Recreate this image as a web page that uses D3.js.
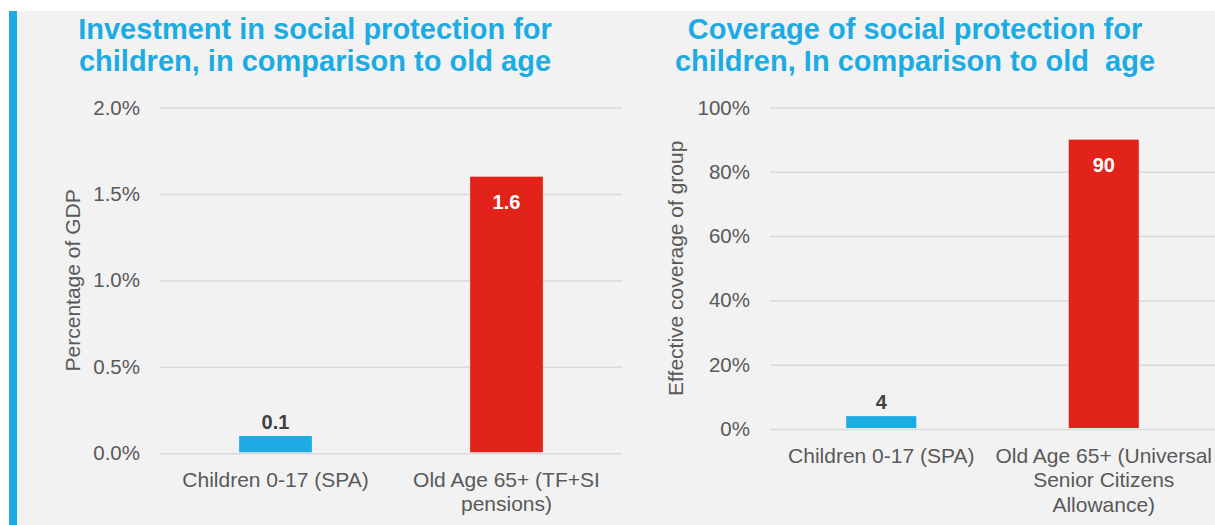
<!DOCTYPE html>
<html>
<head>
<meta charset="utf-8">
<script src="https://cdn.jsdelivr.net/npm/d3@7"></script>
<style>
  html, body { margin: 0; padding: 0; background: #ffffff; }
  svg { display: block; }
  text { font-family: Arial, "Liberation Sans", Helvetica, sans-serif; }
</style>
</head>
<body>
<svg id="chart" width="1215" height="525"></svg>
<script>
// ---- Data ----
const investTitle = ["Investment in social protection for", "children, in comparison to old age"];
const investAxisTitle = "Percentage of GDP";
const investCategories = [["Children 0-17 (SPA)"], ["Old Age 65+ (TF+SI", "pensions)"]];
const investValues = [0.1, 1.6];
const investTicks = [0, 0.5, 1.0, 1.5, 2.0];

const coverageTitle = ["Coverage of social protection for", "children, In comparison to old  age"];
const coverageAxisTitle = "Effective coverage of group";
const coverageCategories = [["Children 0-17 (SPA)"], ["Old Age 65+ (Universal", "Senior Citizens", "Allowance)"]];
const coverageValues = [4, 90];
const coverageTicks = [0, 20, 40, 60, 80, 100];

const barColors = ["#1cabe2", "#e2231a"];

// ---- Drawing ----
const svg = d3.select("#chart");
const W = 1215, H = 525;

svg.append("rect").attr("x", 0).attr("y", 0).attr("width", W).attr("height", H).attr("fill", "#ffffff");
svg.append("rect").attr("x", 9).attr("y", 11).attr("width", W - 9).attr("height", H - 11).attr("fill", "#f2f2f2");
svg.append("rect").attr("x", 9).attr("y", 11).attr("width", 8).attr("height", H - 11).attr("fill", "#1cabe2");

function drawPanel(cfg) {
  const g = svg.append("g");

  // title
  cfg.title.forEach((line, i) => {
    g.append("text")
      .attr("x", cfg.titleX)
      .attr("y", 38.5 + i * 32)
      .attr("text-anchor", "middle")
      .attr("font-size", 29)
      .attr("font-weight", "bold")
      .attr("fill", "#1cabe2")
      .style("white-space", "pre")
      .text(line);
  });

  const x = d3.scaleBand()
    .domain(cfg.categories.map((d, i) => i))
    .range([cfg.left, cfg.right])
    .padding(0);
  const y = d3.scaleLinear()
    .domain([cfg.ticks[0], cfg.ticks[cfg.ticks.length - 1]])
    .range([cfg.bottom, cfg.top]);

  // gridlines + tick labels
  const axis = d3.axisLeft(y)
    .tickValues(cfg.ticks)
    .tickSize(-(cfg.right - cfg.left))
    .tickPadding(20)
    .tickFormat(cfg.format);
  const ag = g.append("g").attr("transform", `translate(${cfg.left},0)`).call(axis);
  ag.select(".domain").remove();
  ag.selectAll(".tick line").attr("stroke", "#d9d9d9").attr("stroke-width", 1.5);
  ag.selectAll(".tick text")
    .attr("font-size", 20.5)
    .attr("fill", "#595959")
    .attr("font-family", "Arial, 'Liberation Sans', sans-serif");

  // axis title
  g.append("text")
    .attr("transform", `translate(${cfg.axisTitleX},${(cfg.top + cfg.bottom) / 2}) rotate(-90)`)
    .attr("text-anchor", "middle")
    .attr("font-size", 21)
    .attr("fill", "#595959")
    .text(cfg.axisTitle);

  const barW = x.bandwidth() * 0.315;

  // bars
  g.selectAll(".bar")
    .data(cfg.values)
    .join("rect")
    .attr("x", (d, i) => x(i) + x.bandwidth() / 2 - barW / 2)
    .attr("y", d => y(d))
    .attr("width", barW)
    .attr("height", d => y(0) - y(d) - 1)
    .attr("fill", (d, i) => barColors[i]);

  // value labels
  g.selectAll(".val")
    .data(cfg.values)
    .join("text")
    .attr("x", (d, i) => x(i) + x.bandwidth() / 2)
    .attr("y", (d, i) => i === 0 ? y(d) - 7 : y(d) + 32)
    .attr("text-anchor", "middle")
    .attr("font-size", 20)
    .attr("font-weight", "bold")
    .attr("fill", (d, i) => i === 0 ? "#404040" : "#ffffff")
    .text(d => d);

  // category labels
  cfg.categories.forEach((lines, i) => {
    lines.forEach((line, j) => {
      g.append("text")
        .attr("x", x(i) + x.bandwidth() / 2)
        .attr("y", cfg.bottom + 33.5 + j * 24.5)
        .attr("text-anchor", "middle")
        .attr("font-size", 21)
        .attr("fill", "#595959")
        .text(line);
    });
  });
}

drawPanel({
  title: investTitle, titleX: 315,
  axisTitle: investAxisTitle, axisTitleX: 80,
  categories: investCategories, values: investValues, ticks: investTicks,
  format: d => d3.format(".1f")(d) + "%",
  left: 160, right: 622, top: 107.5, bottom: 453.3
});

drawPanel({
  title: coverageTitle, titleX: 915,
  axisTitle: coverageAxisTitle, axisTitleX: 683,
  categories: coverageCategories, values: coverageValues, ticks: coverageTicks,
  format: d => d + "%",
  left: 770, right: 1215, top: 107.5, bottom: 429
});
</script>
</body>
</html>
